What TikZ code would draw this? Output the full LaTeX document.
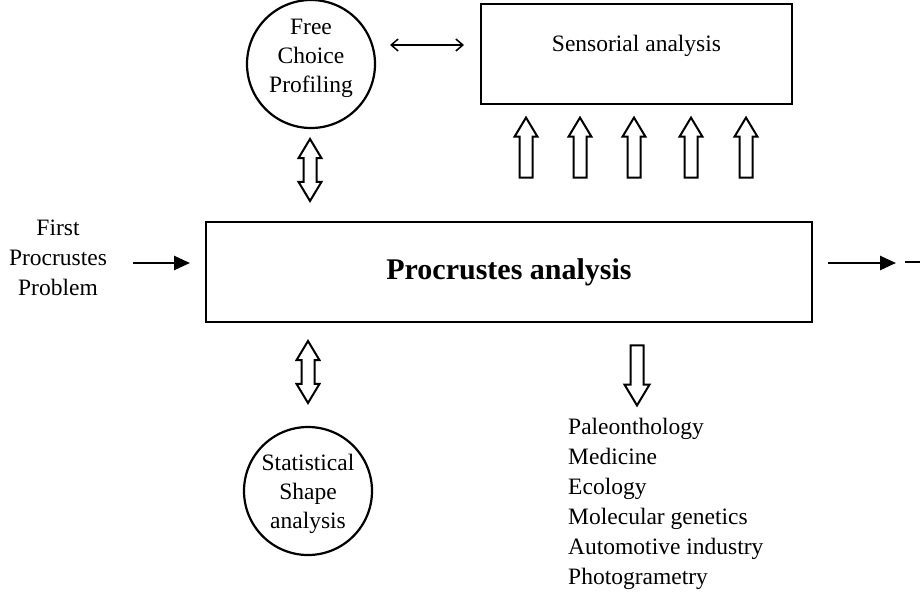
\documentclass[tikz,border=0pt]{standalone}
\usepackage{fontspec}
\setmainfont{Liberation Serif}
\usetikzlibrary{shapes.arrows,arrows.meta}
\begin{document}
\begin{tikzpicture}[x=1pt,y=-1pt,
  txt/.style={font=\fontsize{23.5}{30}\selectfont, align=center},
  bubble/.style={circle, draw, line width=2.2pt, minimum size=128pt, inner sep=0pt, txt},
  box/.style={draw, line width=2.8pt, inner sep=0pt, txt},
  hollowup/.style={single arrow, draw, line width=2pt, minimum width=21pt, minimum height=60pt,
    inner sep=5.5pt, single arrow head extend=5pt, single arrow tip angle=62, rotate=90},
  hollowboth/.style={double arrow, draw, line width=2pt, minimum width=21pt, minimum height=62pt,
    inner sep=5.5pt, double arrow head extend=5pt, double arrow tip angle=62, rotate=90},
  solidarr/.style={line width=2.6pt, -{Triangle[length=16pt,width=14pt]}},
  thinarr/.style={line width=1.5pt, {Straight Barb[length=7pt,width=12pt]}-{Straight Barb[length=7pt,width=12pt]}}
]
\useasboundingbox (0,0) rectangle (923,592);

% nodes
\node[bubble] (fcp) at (311,64) {\raisebox{0pt}[0pt][0pt]{\begin{tabular}{@{}c@{}}Free\\[-1pt]Choice\\[-1pt]Profiling\end{tabular}}};
\node[box, minimum width=311pt, minimum height=100pt] (sens) at (636.5,54) {\raisebox{3pt}[0pt][0pt]{Sensorial analysis}};
\node[box, minimum width=606pt, minimum height=100pt] (main) at (509,272)
  {\fontsize{30}{32}\selectfont\bfseries Procrustes analysis};
\node[bubble] (ssa) at (308,491) {\raisebox{-9pt}[0pt][0pt]{\begin{tabular}{@{}c@{}}Statistical\\[-1pt]Shape\\[-1pt]analysis\end{tabular}}};
\node[txt] (first) at (58,258) {First\\Procrustes\\Problem};
\node[txt, align=left, anchor=north west, inner sep=0pt] (apps) at (568,418)
  {Paleonthology\\Medicine\\Ecology\\Molecular genetics\\Automotive industry\\Photogrametry};

% hollow arrows
\node[hollowboth] (a1) at (310,170) {};
\node[hollowboth] (a2) at (308,372) {};
\foreach \x/\n in {526/u1,580/u2,634/u3,691/u4,746/u5}
  \node[hollowup] (\n) at (\x,153) {};
\node[hollowup, rotate=180, minimum width=23pt, single arrow head extend=6pt] (d1) at (637,370) {};

% line arrows
\coordinate (l1) at (133,263);
\coordinate (l2) at (190,263);
\draw[solidarr] (l1) -- (l2);
\coordinate (r1) at (828,263);
\coordinate (r2) at (896,263);
\draw[solidarr] (r1) -- (r2);
\coordinate (r3) at (905,262);
\coordinate (r4) at (920,262);
\draw[line width=2.4pt] (r3) -- (r4);
\coordinate (h1) at (390,45);
\coordinate (h2) at (464,45);
\draw[thinarr] (h1) -- (h2);
\end{tikzpicture}
\end{document}
